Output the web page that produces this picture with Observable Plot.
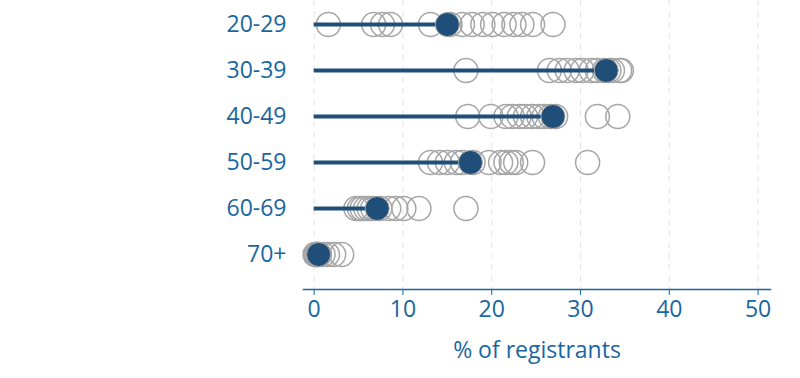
<!DOCTYPE html>
<html><head><meta charset="utf-8">
<script src="https://cdn.jsdelivr.net/npm/d3@7"></script>
<script src="https://cdn.jsdelivr.net/npm/@observablehq/plot@0.6"></script>
<style>body{margin:0;background:#fff}</style>
</head><body><div id="chart"></div>
<script>
const ageGroups = ["20-29","30-39","40-49","50-59","60-69","70+"];
const pts2029 = [1.6, 6.7, 7.7, 8.6, 13.1, 15.3, 16.7, 17.8, 19.0, 20.1, 21.4, 22.5, 23.4, 24.6, 26.9];
const pts3039 = [17.1, 26.5, 27.6, 28.5, 29.5, 30.2, 31.2, 31.9, 32.7, 33.2, 33.6, 34.4, 34.6];
const pts4049 = [17.3, 19.9, 21.6, 22.3, 23.1, 23.8, 24.6, 25.3, 25.9, 26.6, 27.2, 31.9, 34.2];
const pts5059 = [13.1, 14.1, 15.0, 16.0, 16.7, 17.9, 19.7, 21.0, 21.6, 22.2, 22.7, 24.6, 30.8];
const pts6069 = [4.7, 5.1, 5.4, 5.8, 6.2, 6.6, 7.4, 8.4, 9.2, 10.1, 11.8, 17.1];
const pts70 = [0.1, 0.2, 0.3, 0.4, 0.6, 1.0, 1.5, 2.2, 3.1];
const overall = [15.0, 32.9, 26.9, 17.6, 7.1, 0.5];
const xTicks = [0, 10, 20, 30, 40, 50];

const seriesPts = [pts2029, pts3039, pts4049, pts5059, pts6069, pts70];
const dots = ageGroups.flatMap((g, i) => seriesPts[i].map(v => ({group: g, value: v})));
const means = ageGroups.map((g, i) => ({group: g, value: overall[i]}));

const blue = "#1f4e79";
const textBlue = "#1a66a0";

const chart = Plot.plot({
  width: 800, height: 378,
  marginLeft: 303, marginRight: 30, marginTop: 0, marginBottom: 89,
  style: {fontFamily: "Open Sans", fontSize: "23px", color: textBlue, background: "#fff"},
  x: {domain: [-1.2, 51.4]},
  y: {type: "point", domain: ageGroups, range: [23, 254], padding: 0},
  marks: [
    Plot.ruleX(xTicks, {stroke: "#e4e4e4", strokeDasharray: "6,5", strokeWidth: 1}),
    Plot.frame({anchor: "bottom", stroke: textBlue, strokeWidth: 1.5}),
    Plot.axisX({ticks: xTicks, tickSize: 6, tickPadding: 5, fontSize: 23, color: textBlue, label: null}),
    Plot.axisY({tickSize: 0, tickPadding: 17, fontSize: 23, color: textBlue, label: null}),
    Plot.text(["% of registrants"], {frameAnchor: "bottom", dy: 61, fontSize: 23, fill: textBlue, lineAnchor: "middle"}),
    Plot.dot(dots, {x: "value", y: "group", r: 12, stroke: "#a6a6a6", fill: "none", strokeWidth: 1.5}),
    Plot.ruleY(means, {y: "group", x1: 0, x2: "value", stroke: blue, strokeWidth: 4}),
    Plot.dot(means, {x: "value", y: "group", r: 12, fill: blue, stroke: "#a6a6a6", strokeWidth: 1})
  ]
});
document.getElementById("chart").appendChild(chart);
</script>
</body></html>
